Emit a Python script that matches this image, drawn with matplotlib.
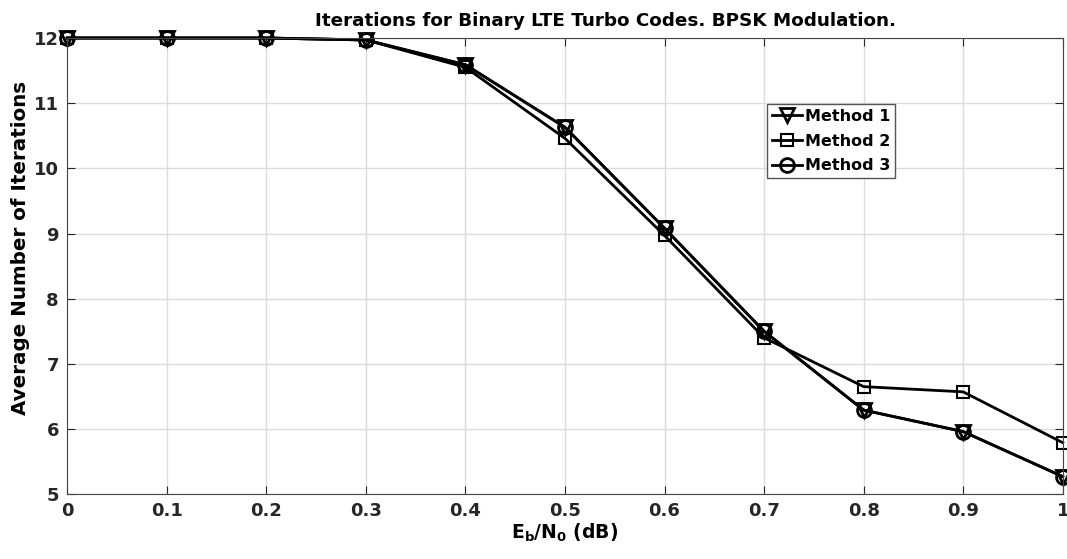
import matplotlib.pyplot as plt

plt.rcParams['font.family'] = ['DejaVu Sans']
plt.rcParams['font.weight'] = 'bold'
plt.rcParams['mathtext.fontset'] = 'dejavusans'

ebn0 = [0, 0.1, 0.2, 0.3, 0.4, 0.5, 0.6, 0.7, 0.8, 0.9, 1.0]
method1 = [12, 12, 12, 11.97, 11.59, 10.63, 9.08, 7.50, 6.29, 5.96, 5.27]
method2 = [12, 12, 12, 11.97, 11.55, 10.46, 8.97, 7.40, 6.65, 6.57, 5.79]
method3 = [12, 12, 12, 11.97, 11.59, 10.63, 9.08, 7.50, 6.29, 5.96, 5.27]

fig = plt.figure(figsize=(10.67, 5.59), dpi=100)
ax = fig.add_axes([0.063, 0.116, 0.933, 0.816])

ax.plot(ebn0, method1, marker="v", ls="-", color="black", lw=2,
        markersize=10, mfc="none", mew=2, label="Method 1", clip_on=False)
ax.plot(ebn0, method2, marker="s", ls="-", color="black", lw=2,
        markersize=9, mfc="none", mew=1.5, label="Method 2", clip_on=False)
ax.plot(ebn0, method3, marker="o", ls="-", color="black", lw=2,
        markersize=10, mfc="none", mew=2, label="Method 3", clip_on=False)

ax.set_xlim(0, 1)
ax.set_ylim(5, 12)
ax.set_xticks(ebn0)
ax.set_xticklabels(["0", "0.1", "0.2", "0.3", "0.4", "0.5", "0.6", "0.7", "0.8", "0.9", "1"])
ax.set_yticks(range(5, 13))
ax.grid(True, color="#dcdcdc", lw=1)
ax.tick_params(direction="in", top=True, right=True, labelsize=13,
               colors="#262626", length=6, pad=6)
for s in ax.spines.values():
    s.set_color("#444444")

ax.set_title("Iterations for Binary LTE Turbo Codes. BPSK Modulation.",
             fontsize=13.2, fontweight="bold", x=0.541, pad=9)
ax.set_xlabel(r"$\mathbf{E_b/N_0}$ (dB)", fontsize=13.5, fontweight="bold", labelpad=1)
ax.set_ylabel("Average Number of Iterations", fontsize=14.3, fontweight="bold")
ax.yaxis.set_label_coords(-0.037, 0.54)

leg = ax.legend(loc="upper left", bbox_to_anchor=(0.703, 0.855), fontsize=11.5,
                fancybox=False, framealpha=1, edgecolor="#555555",
                handlelength=1.9, handletextpad=0.15, borderpad=0.3, labelspacing=0.6,
                borderaxespad=0)
leg.get_frame().set_linewidth(1)

fig.savefig("out.png", dpi=100)
